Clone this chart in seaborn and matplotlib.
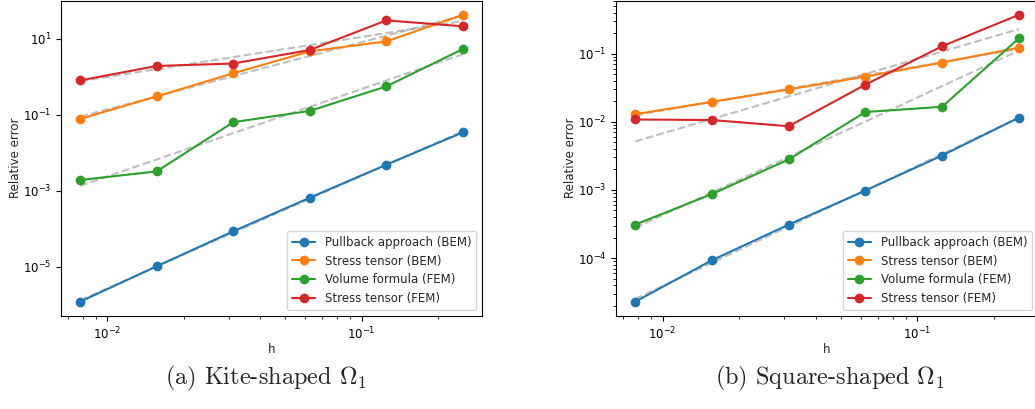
import numpy as np
import pandas as pd
import matplotlib
matplotlib.use("Agg")
import matplotlib.pyplot as plt
import matplotlib.ticker as mticker
import seaborn as sns

# ---- data ----
h = [1/128, 1/64, 1/32, 1/16, 1/8, 1/4]
labels = ["Pullback approach (BEM)", "Stress tensor (BEM)",
          "Volume formula (FEM)", "Stress tensor (FEM)"]
colors = ["#1f77b4", "#ff7f0e", "#2ca02c", "#d62728"]

kite_pullback_bem = [1.2e-6, 1.02e-5, 8.5e-5, 6.5e-4, 4.8e-3, 0.034]
kite_stress_bem = [0.077, 0.30, 1.22, 4.6, 8.4, 42.0]
kite_volume_fem = [1.9e-3, 3.2e-3, 0.063, 0.125, 0.55, 5.3]
kite_stress_fem = [0.79, 1.9, 2.2, 5.0, 30.0, 21.0]

square_pullback_bem = [2.3e-5, 9.3e-5, 3.1e-4, 9.8e-4, 3.2e-3, 0.0115]
square_stress_bem = [0.0129, 0.0196, 0.0298, 0.046, 0.074, 0.122]
square_volume_fem = [3.1e-4, 8.7e-4, 2.8e-3, 0.0139, 0.0166, 0.167]
square_stress_fem = [0.0108, 0.0106, 0.0086, 0.035, 0.128, 0.37]

kite_yticks = [1e-5, 1e-3, 1e-1, 1e1]

captions = [r"(a) Kite-shaped $\Omega_1$", r"(b) Square-shaped $\Omega_1$"]

panels = [
    [kite_pullback_bem, kite_stress_bem, kite_volume_fem, kite_stress_fem],
    [square_pullback_bem, square_stress_bem, square_volume_fem, square_stress_fem],
]

sns.set_style("ticks")
plt.rcParams["font.family"] = ["DejaVu Sans"]
plt.rcParams["mathtext.fontset"] = "dejavusans"
plt.rcParams["xtick.direction"] = "out"
plt.rcParams["ytick.direction"] = "out"
plt.rcParams["axes.edgecolor"] = "black"
plt.rcParams["axes.linewidth"] = 0.8
plt.rcParams["xtick.color"] = "black"
plt.rcParams["ytick.color"] = "black"

W, H = 1035, 409
fig = plt.figure(figsize=(W / 100, H / 100), dpi=100)
ax_pos = [(61, 482), (616, 1038)]
top, bottom = 0.5, 316

fs = 8.5
for i, (series, (x0, x1)) in enumerate(zip(panels, ax_pos)):
    ax = fig.add_axes([x0 / W, (H - bottom) / H, (x1 - x0) / W, (bottom - top) / H])
    # least-squares fits (dashed)
    for vals in series:
        p = np.polyfit(np.log10(h), np.log10(vals), 1)
        fit = 10 ** np.polyval(p, np.log10(h))
        sns.lineplot(x=h, y=fit, ax=ax, color="gray", alpha=0.5, linestyle="--",
                     linewidth=1.5, zorder=1, legend=False)
    for vals, lab, c in zip(series, labels, colors):
        sns.lineplot(x=h, y=vals, ax=ax, color=c, marker="o", markersize=6,
                     markeredgecolor=c, markeredgewidth=1, linewidth=1.5,
                     label=lab, zorder=3)
    ax.set_xscale("log")
    ax.set_yscale("log")
    if i == 0:
        ax.yaxis.set_major_locator(mticker.FixedLocator(kite_yticks))
        ax.yaxis.set_major_formatter(mticker.LogFormatterSciNotation())
        ax.yaxis.set_minor_locator(mticker.NullLocator())
    ax.set_xlabel("h", fontsize=fs, labelpad=0.5)
    ax.set_ylabel("Relative error", fontsize=fs, labelpad=0.5)
    ax.tick_params(labelsize=fs)
    leg = ax.legend(loc="lower right", fontsize=fs, frameon=True)
    leg.get_frame().set_edgecolor("#cccccc")
    for sp in ax.spines.values():
        sp.set_visible(True)

cap_x = [266, 830]
for cx, cap in zip(cap_x, captions):
    fig.text(cx / W, 1 - 378 / H, cap, ha="center", va="center", fontsize=17.5,
             family="cmr10", math_fontfamily="cm")

fig.savefig("out.png", dpi=100)
